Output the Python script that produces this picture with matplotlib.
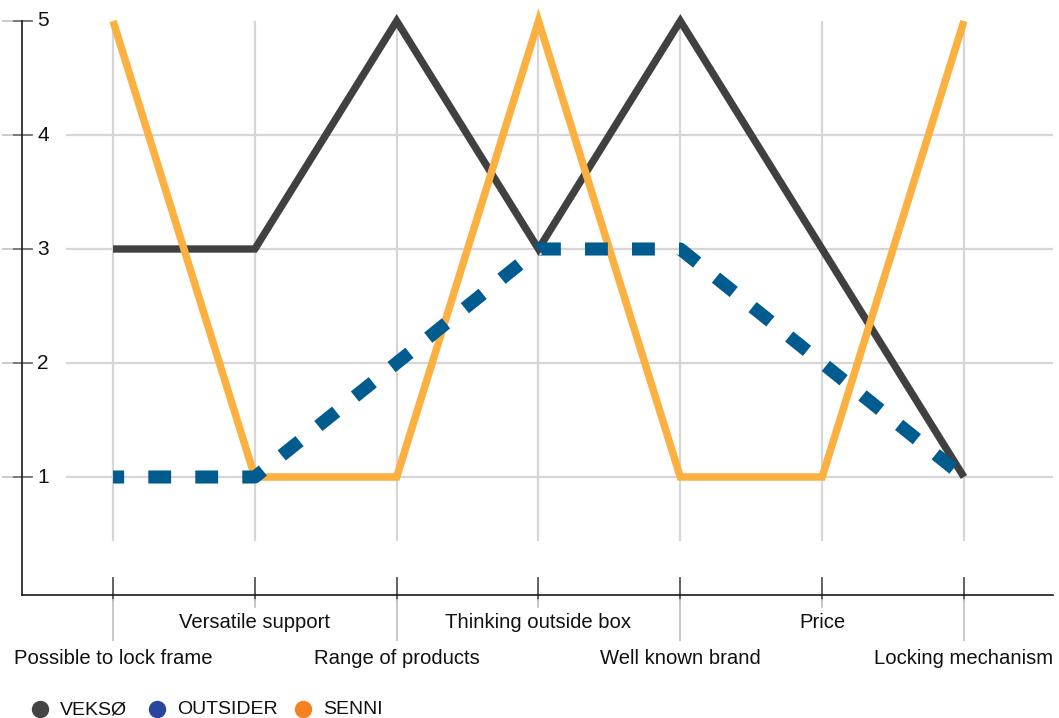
import matplotlib.pyplot as plt
from matplotlib.lines import Line2D
from matplotlib.transforms import blended_transform_factory

plt.rcParams['font.family'] = ['Liberation Sans', 'DejaVu Sans']

# data
categories = ["Possible to lock frame", "Versatile support", "Range of products",
              "Thinking outside box", "Well known brand", "Price", "Locking mechanism"]
veksoe = [3, 3, 5, 3, 5, 3, 1]
outsider = [1, 1, 2, 3, 3, 2, 1]
senni = [5, 1, 1, 5, 1, 1, 5]
series_names = ["VEKSØ", "OUTSIDER", "SENNI"]
y_ticks = [1, 2, 3, 4, 5]

line_colors = {"VEKSØ": "#404040", "OUTSIDER": "#005b8f", "SENNI": "#fbb040"}
legend_colors = {"VEKSØ": "#444444", "OUTSIDER": "#2a44a0", "SENNI": "#f58220"}

W, H = 1059, 718
fig = plt.figure(figsize=(W / 100, H / 100), dpi=100)
ax = fig.add_axes([22 / W, 123 / H, 1031 / W, 574 / H])

x = list(range(len(categories)))
ax.set_xlim(-0.642, 6.628)
ax.set_ylim(-0.035, 5.0)

# grid
for v in y_ticks[:-1]:
    ax.plot([-0.324, 6.628], [v, v], color="#d6d6d6", lw=1.6, zorder=1)
for xi in x:
    ax.plot([xi, xi], [0.45, 5.0], color="#d6d6d6", lw=1.6, zorder=1)

# series
ax.plot(x, veksoe, color=line_colors["VEKSØ"], lw=5.3, solid_joinstyle="miter",
        solid_capstyle="butt", zorder=3, clip_on=False)
ax.plot(x, senni, color=line_colors["SENNI"], lw=5.4, solid_joinstyle="miter",
        solid_capstyle="butt", zorder=4, clip_on=False)
ax.plot(x, outsider, color=line_colors["OUTSIDER"], lw=9.4, dash_capstyle="butt",
        linestyle=(0.9, (1.75, 1.85)), zorder=5, clip_on=False)

# spines
for s in ["top", "right"]:
    ax.spines[s].set_visible(False)
for s in ["left", "bottom"]:
    ax.spines[s].set_color("#1a1a1a")
    ax.spines[s].set_linewidth(1.2)
ax.set_xticks([])
ax.set_yticks([])

# y tick marks and labels
ty = blended_transform_factory(fig.transFigure, ax.transData)
for v in y_ticks:
    ax.add_line(Line2D([3 / W, 14 / W], [v, v], color="#c8c8c8", lw=1.3,
                       transform=ty, clip_on=False))
    ax.add_line(Line2D([14 / W, 32 / W], [v, v], color="#707070", lw=1.3,
                       transform=ty, clip_on=False))
    fig.text(37 / W, v, str(v), transform=ty, ha="left", va="center",
             fontsize=15, color="#111111")

# x tick marks and labels (two staggered rows)
tx = blended_transform_factory(ax.transData, fig.transFigure)
for i, (xi, lab) in enumerate(zip(x, categories)):
    low = i % 2 == 0
    end = 640 if low else 607
    ax.add_line(Line2D([xi, xi], [1 - 578 / H, 1 - 600 / H], color="#555555",
                       lw=1.3, transform=tx, clip_on=False))
    ax.add_line(Line2D([xi, xi], [1 - 600 / H, 1 - end / H], color="#c4c4c4",
                       lw=1.3, transform=tx, clip_on=False))
    ty_lab = 658 if low else 622
    fig.text(xi, 1 - ty_lab / H, lab, transform=tx, ha="center", va="center",
             fontsize=14.6, color="#111111")

# legend
leg_x = [40, 157, 303]
for lx, name in zip(leg_x, series_names):
    fig.add_artist(Line2D([lx / W], [1 - 709 / H], marker="o", markersize=11.5,
                          color=legend_colors[name], lw=0, transform=fig.transFigure))
    fig.text((lx + 20) / W, 1 - 710 / H, name, ha="left", va="center",
             fontsize=14, color="#111111")

fig.savefig("out.png", dpi=100)
